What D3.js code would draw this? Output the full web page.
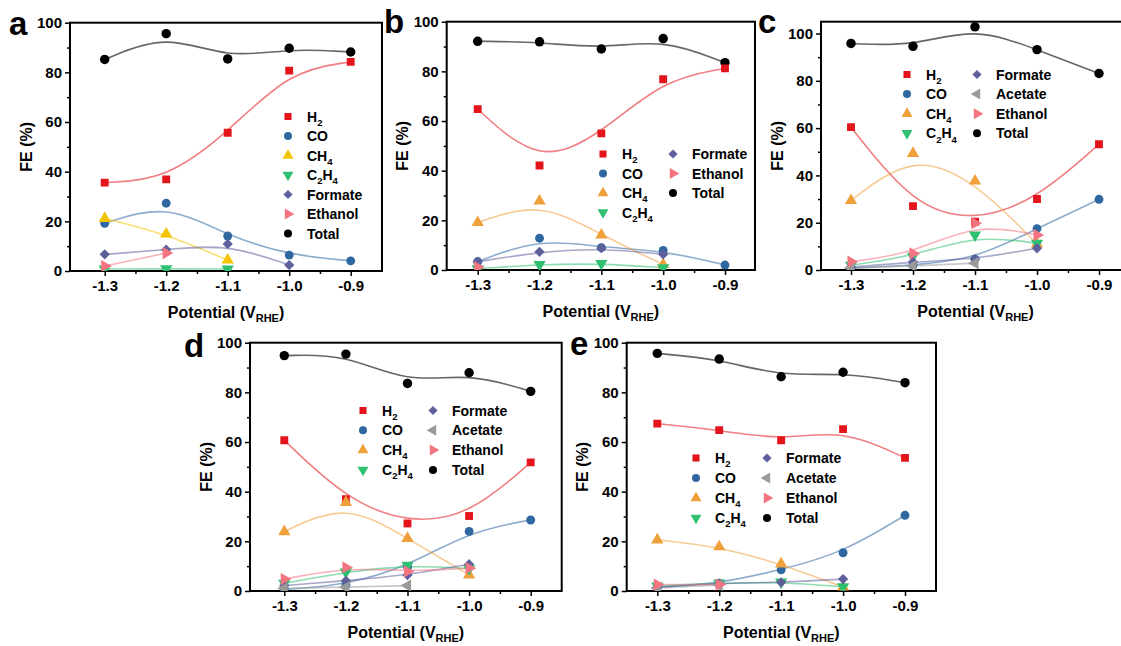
<!DOCTYPE html>
<html><head><meta charset="utf-8">
<script src="https://cdn.jsdelivr.net/npm/d3@7"></script>
<style>
body{margin:0;background:#fff}
svg{display:block;font-family:"Liberation Sans",Arial,sans-serif}
</style>
</head><body><svg id="chart" width="1121" height="646"></svg>
<script>
// ---------- data ----------
const potentials = [-1.3, -1.2, -1.1, -1.0, -0.9];
const xTickLabels = ["-1.3", "-1.2", "-1.1", "-1.0", "-0.9"];
const xMinorTicks = [-1.25, -1.15, -1.05, -0.95];
const yTicks = [0, 20, 40, 60, 80, 100];
const yMinorTicks = [10, 30, 50, 70, 90];

// panel a
const aH2 = [35.6, 36.9, 55.7, 80.7, 84.2];
const aCO = [19.2, 27.3, 14.1, 6.4, 4.1];
const aCH4 = [21.2, 14.9, 4.4];
const aC2H4 = [0.8, 0.9, 0.8];
const aFormate = [6.7, 8.6, 10.9, 2.4];
const aEthanol = [2.0, 7.2];
const aTotal = [85.2, 95.6, 85.4, 89.7, 88.2];
// panel b
const bH2 = [64.8, 42.1, 55.0, 76.8, 81.2];
const bCO = [3.4, 12.8, 9.0, 7.9, 2.0];
const bCH4 = [19.1, 27.8, 14.1, 2.2];
const bC2H4 = [0.5, 2.2, 2.6, 0.9];
const bFormate = [3.3, 7.3, 8.8, 6.3];
const bEthanol = [1.2];
const bTotal = [92.1, 91.9, 89.0, 93.2, 83.5];
// panel c
const cH2 = [60.4, 27.0, 20.4, 30.0, 53.2];
const cCO = [0.8, 2.0, 4.6, 17.5, 29.9];
const cCH4 = [29.4, 49.3, 37.6, 11.0];
const cC2H4 = [2.0, 5.8, 14.8, 11.3];
const cFormate = [1.2, 3.4, 4.6, 9.2];
const cAcetate = [0.8, 1.7, 2.9];
const cEthanol = [3.5, 7.0, 19.8, 14.8];
const cTotal = [95.8, 94.6, 102.8, 93.2, 83.1];
// panel d
const dH2 = [60.7, 37.0, 27.2, 30.2, 51.8];
const dCO = [0.6, 2.4, 9.8, 24.0, 28.6];
const dCH4 = [23.9, 35.7, 21.2, 6.5];
const dC2H4 = [3.1, 7.6, 10.4, 9.0];
const dFormate = [2.2, 4.1, 6.4, 10.8];
const dAcetate = [1.1, 1.5, 2.2];
const dEthanol = [4.8, 9.5, 7.9, 9.2];
const dTotal = [94.8, 95.4, 83.6, 87.9, 80.4];
// panel e
const eH2 = [67.4, 64.8, 60.7, 65.2, 53.6];
const eCO = [1.5, 3.0, 8.5, 15.4, 30.5];
const eCH4 = [20.6, 17.8, 10.9, 1.6];
const eC2H4 = [2.0, 3.2, 3.6, 1.7];
const eFormate = [1.5, 3.1, 3.5, 4.8];
const eAcetate = [1.2, 2.4];
const eEthanol = [2.6, 2.6];
const eTotal = [95.7, 93.4, 86.3, 88.1, 83.9];

// ---------- styles ----------
const styles = {
  H2: {shape: "square", color: "#e3141c"},
  CO: {shape: "circle", color: "#2f67a0"},
  CH4: {shape: "triUp", color: "#f0a03a"},
  C2H4: {shape: "triDown", color: "#2fc072"},
  Formate: {shape: "diamond", color: "#5f5f9c"},
  Acetate: {shape: "triLeft", color: "#9a9a9a"},
  Ethanol: {shape: "triRight", color: "#f27581"},
  Total: {shape: "circle", color: "#000000"}
};
const labelParts = {
  H2: [["H", 0], ["2", 1]],
  CO: [["CO", 0]],
  CH4: [["CH", 0], ["4", 1]],
  C2H4: [["C", 0], ["2", 1], ["H", 0], ["4", 1]],
  Formate: [["Formate", 0]],
  Acetate: [["Acetate", 0]],
  Ethanol: [["Ethanol", 0]],
  Total: [["Total", 0]]
};
const drawOrder = ["Total", "H2", "CO", "CH4", "C2H4", "Formate", "Acetate", "Ethanol"];

const panels = [
  {key: "a", box: [70, 382, 22.7, 271], x13: 104.7, x09: 350.7, ymax: 100,
   label: [9, 35], ch4Color: "#f5c400",
   series: {H2: aH2, CO: aCO, CH4: aCH4, C2H4: aC2H4, Formate: aFormate, Ethanol: aEthanol, Total: aTotal},
   legend: {xs: [288], y0: 116.5, dy: 19.5, cols: [["H2", "CO", "CH4", "C2H4", "Formate", "Ethanol", "Total"]]}},
  {key: "b", box: [446.7, 755, 21.7, 270], x13: 477.7, x09: 725, ymax: 100,
   label: [384, 33],
   series: {H2: bH2, CO: bCO, CH4: bCH4, C2H4: bC2H4, Formate: bFormate, Ethanol: bEthanol, Total: bTotal},
   legend: {xs: [603, 673], y0: 154, dy: 19.5, cols: [["H2", "CO", "CH4", "C2H4"], ["Formate", "Ethanol", "Total"]]}},
  {key: "c", box: [821, 1130, 21.7, 270], x13: 851, x09: 1099, ymax: 105,
   label: [758, 33],
   series: {H2: cH2, CO: cCO, CH4: cCH4, C2H4: cC2H4, Formate: cFormate, Acetate: cAcetate, Ethanol: cEthanol, Total: cTotal},
   legend: {xs: [907, 977], y0: 74.5, dy: 19.6, cols: [["H2", "CO", "CH4", "C2H4"], ["Formate", "Acetate", "Ethanol", "Total"]]}},
  {key: "d", box: [250, 561.7, 342.7, 591], x13: 284.3, x09: 530.7, ymax: 100,
   label: [184, 357],
   series: {H2: dH2, CO: dCO, CH4: dCH4, C2H4: dC2H4, Formate: dFormate, Acetate: dAcetate, Ethanol: dEthanol, Total: dTotal},
   legend: {xs: [363, 433], y0: 410.5, dy: 19.8, cols: [["H2", "CO", "CH4", "C2H4"], ["Formate", "Acetate", "Ethanol", "Total"]]}},
  {key: "e", box: [626.7, 936, 342.7, 591], x13: 657.3, x09: 905, ymax: 100,
   label: [570, 355],
   series: {H2: eH2, CO: eCO, CH4: eCH4, C2H4: eC2H4, Formate: eFormate, Acetate: eAcetate, Ethanol: eEthanol, Total: eTotal},
   legend: {xs: [696, 767], y0: 458, dy: 20, cols: [["H2", "CO", "CH4", "C2H4"], ["Formate", "Acetate", "Ethanol", "Total"]]}}
];

// ---------- drawing ----------
const svg = d3.select("#chart");
svg.append("rect").attr("width", 1121).attr("height", 646).attr("fill", "#fff");

function symbolPath(shape, size) {
  const s = size || 62;
  switch (shape) {
    case "square": return {d: d3.symbol(d3.symbolSquare, s)(), rot: 0};
    case "circle": return {d: d3.symbol(d3.symbolCircle, s)(), rot: 0};
    case "triUp": return {d: d3.symbol(d3.symbolTriangle, s * 1.05)(), rot: 0};
    case "triDown": return {d: d3.symbol(d3.symbolTriangle, s * 1.05)(), rot: 180};
    case "triLeft": return {d: d3.symbol(d3.symbolTriangle, s * 1.05)(), rot: -90};
    case "triRight": return {d: d3.symbol(d3.symbolTriangle, s * 1.05)(), rot: 90};
    case "diamond": return {d: d3.symbol(d3.symbolSquare, s * 0.85)(), rot: 45};
  }
}

function addLabel(textSel, name, fs) {
  let shifted = false;
  const shift = fs * 0.3;
  labelParts[name].forEach(([t, sub]) => {
    const ts = textSel.append("tspan").text(t);
    if (sub) {
      ts.attr("font-size", fs * 0.68);
      if (!shifted) { ts.attr("dy", shift); shifted = true; }
    } else if (shifted) {
      ts.attr("dy", -shift); shifted = false;
    }
  });
}

panels.forEach(p => {
  const [L, R, T, B] = p.box;
  const g = svg.append("g");
  const x = d3.scaleLinear().domain([-1.3, -0.9]).range([p.x13, p.x09]);
  const y = d3.scaleLinear().domain([0, p.ymax]).range([B, T]);

  const clipId = "clip" + p.key;
  svg.append("clipPath").attr("id", clipId).append("rect")
    .attr("x", L).attr("y", T - 6).attr("width", R - L).attr("height", B - T + 6);

  // axes
  const xAx = g.append("g").attr("transform", `translate(0,${B})`)
    .call(d3.axisBottom(x).tickValues(potentials).tickFormat((d, i) => xTickLabels[i]).tickSize(5).tickSizeOuter(0).tickPadding(4));
  const xMin = g.append("g").attr("transform", `translate(0,${B})`)
    .call(d3.axisBottom(x).tickValues(xMinorTicks).tickFormat("").tickSize(3).tickSizeOuter(0));
  const yAx = g.append("g").attr("transform", `translate(${L},0)`)
    .call(d3.axisLeft(y).tickValues(yTicks).tickSize(5).tickSizeOuter(0).tickPadding(3));
  const yMin = g.append("g").attr("transform", `translate(${L},0)`)
    .call(d3.axisLeft(y).tickValues(yMinorTicks).tickFormat("").tickSize(3).tickSizeOuter(0));
  [xMin, yMin].forEach(a => a.selectAll(".tick text").remove());
  [xAx, xMin, yAx, yMin].forEach(a => {
    a.select(".domain").remove();
    a.selectAll(".tick line").attr("stroke", "#000").attr("stroke-width", 1.5);
    a.selectAll(".tick text").attr("fill", "#000").attr("font-size", 15)
      .attr("font-weight", "bold").attr("font-family", '"Liberation Sans",Arial,sans-serif');
  });

  // box
  g.append("rect").attr("x", L).attr("y", T).attr("width", R - L).attr("height", B - T)
    .attr("fill", "none").attr("stroke", "#000").attr("stroke-width", 2);

  // axis titles
  const xt = g.append("text").attr("x", (L + R) / 2).attr("y", B + 47)
    .attr("text-anchor", "middle").attr("font-size", 16).attr("font-weight", "bold");
  xt.append("tspan").text("Potential (V");
  xt.append("tspan").attr("font-size", 11).attr("dy", 4).text("RHE");
  xt.append("tspan").attr("dy", -4).text(")");

  g.append("text").attr("transform", `translate(${L - 44},${(T + B) / 2}) rotate(-90)`)
    .attr("text-anchor", "middle").attr("dominant-baseline", "central")
    .attr("font-size", 16).attr("font-weight", "bold").text("FE (%)");

  // panel letter
  g.append("text").attr("x", p.label[0]).attr("y", p.label[1])
    .attr("font-size", 33).attr("font-weight", "bold").text(p.key);

  // lines
  const line = d3.line().x((d, i) => x(potentials[i])).y(d => y(d)).curve(d3.curveBasis);
  const plot = g.append("g").attr("clip-path", `url(#${clipId})`);
  drawOrder.forEach(name => {
    const vals = p.series[name];
    if (!vals) return;
    const col = (name === "CH4" && p.ch4Color) ? p.ch4Color : styles[name].color;
    if (vals.length > 1) {
      plot.append("path").datum(vals).attr("d", line)
        .attr("fill", "none").attr("stroke", name === "Total" ? "#333" : col)
        .attr("stroke-opacity", name === "Total" ? 0.75 : 0.55).attr("stroke-width", 1.6);
    }
  });
  drawOrder.forEach(name => {
    const vals = p.series[name];
    if (!vals) return;
    const col = (name === "CH4" && p.ch4Color) ? p.ch4Color : styles[name].color;
    const sym = symbolPath(styles[name].shape, name === "Total" ? 70 : 62);
    plot.selectAll(null).data(vals).join("path")
      .attr("d", sym.d)
      .attr("transform", (d, i) => `translate(${x(potentials[i])},${y(d)}) rotate(${sym.rot})`)
      .attr("fill", col);
  });

  // legend
  const lg = p.legend;
  lg.cols.forEach((col, ci) => {
    col.forEach((name, ri) => {
      const cx = lg.xs[ci], cy = lg.y0 + ri * lg.dy;
      const c = (name === "CH4" && p.ch4Color) ? p.ch4Color : styles[name].color;
      const sym = symbolPath(styles[name].shape, 50);
      g.append("path").attr("d", sym.d).attr("transform", `translate(${cx},${cy}) rotate(${sym.rot})`).attr("fill", c);
      const t = g.append("text").attr("x", cx + 19).attr("y", cy + 5)
        .attr("font-size", 14).attr("font-weight", "bold");
      addLabel(t, name, 14);
    });
  });
});
</script>
</body></html>
